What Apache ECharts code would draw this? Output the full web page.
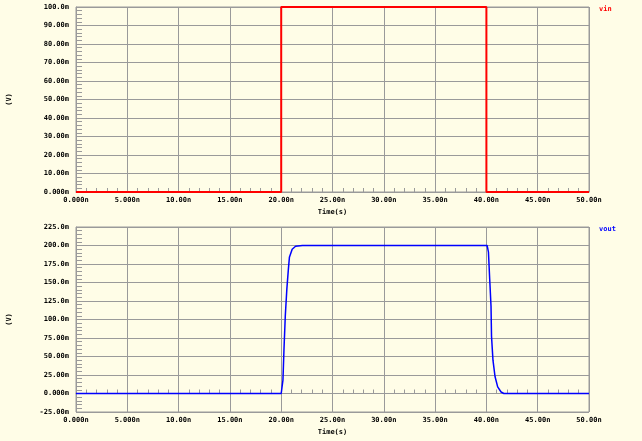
<!DOCTYPE html>
<html>
<head>
<meta charset="utf-8">
<script src="https://cdn.jsdelivr.net/npm/echarts@6/dist/echarts.min.js"></script>
<style>
html,body{margin:0;padding:0;background:#FFFDE7;}
#chart{width:642px;height:441px;}
</style>
</head>
<body>
<div id="chart"></div>
<script>
// Time in ns, voltage in mV
const timeTickLabels = ['0.000n','5.000n','10.00n','15.00n','20.00n','25.00n','30.00n','35.00n','40.00n','45.00n','50.00n'];
const vinTickLabels = ['0.000m','10.00m','20.00m','30.00m','40.00m','50.00m','60.00m','70.00m','80.00m','90.00m','100.0m'];
const voutTickLabels = ['-25.00m','0.000m','25.00m','50.00m','75.00m','100.0m','125.0m','150.0m','175.0m','200.0m','225.0m'];

const vinTime  = [0, 20, 20, 40, 40, 50];
const vinValue = [0, 0, 100, 100, 0, 0];

const voutTime  = [0, 20.0, 20.17, 20.27, 20.4, 20.55, 20.7, 20.8, 21.07, 21.4, 22.07, 40.07, 40.2, 40.32, 40.45, 40.5, 40.64, 40.84, 41.1, 41.43, 41.7, 50];
const voutValue = [0, 0, 18, 59, 105, 141, 168, 184, 195, 199, 200, 200, 191, 155, 118, 77, 45, 23, 9, 2, 0, 0];

const FONT = 'DejaVu Sans Mono';
const GRID_COLOR = '#9a9a9a';
const labelStyle = {fontFamily: FONT, fontWeight: 'bold', fontSize: 7, color: '#000'};

function pairs(xs, ys){ return xs.map((x,i)=>[x, ys[i]]); }

function xAxisCfg(gi){
  return {
    type: 'value', gridIndex: gi, min: 0, max: 50, interval: 5,
    name: 'Time(s)', nameLocation: 'middle', nameGap: 17,
    nameTextStyle: labelStyle,
    axisLine: {show: true, lineStyle: {color: GRID_COLOR, width: 1}},
    axisTick: {show: false, inside: true},
    minorTick: {show: true, splitNumber: 5, length: 4, lineStyle: {color: GRID_COLOR, width: 1}},
    axisLabel: Object.assign({margin: 5, formatter: v => timeTickLabels[Math.round(v/5)]}, labelStyle),
    splitLine: {show: true, lineStyle: {color: GRID_COLOR, width: 1}}
  };
}
function yAxisCfg(gi, min, max, interval, labels){
  return {
    type: 'value', gridIndex: gi, min: min, max: max, interval: interval,
    name: '(V)', nameLocation: 'middle', nameGap: 63, nameRotate: 90,
    nameTextStyle: labelStyle,
    axisLine: {show: true, lineStyle: {color: GRID_COLOR, width: 1}},
    axisTick: {show: false, inside: true},
    minorTick: {show: true, splitNumber: 5, length: 6, lineStyle: {color: GRID_COLOR, width: 1}},
    axisLabel: Object.assign({margin: 7, formatter: v => labels[Math.round((v - min)/interval)]}, labelStyle),
    splitLine: {show: true, lineStyle: {color: GRID_COLOR, width: 1}}
  };
}

const chart = echarts.init(document.getElementById('chart'), null, {renderer: 'canvas'});
chart.setOption({
  backgroundColor: '#FFFDE7',
  animation: false,
  grid: [
    {left: 76, top: 7, width: 513, height: 185, outerBoundsMode: 'none', containLabel: false, show: true, borderColor: GRID_COLOR, borderWidth: 1, backgroundColor: 'transparent'},
    {left: 76, top: 227, width: 513, height: 185, outerBoundsMode: 'none', containLabel: false, show: true, borderColor: GRID_COLOR, borderWidth: 1, backgroundColor: 'transparent'}
  ],
  legend: [
    {data: [{name: 'vin', icon: 'none'}], left: 594, top: 6, itemWidth: 0, itemHeight: 0, padding: 0,
     textStyle: {fontFamily: FONT, fontWeight: 'bold', fontSize: 7, color: '#ff0000'}},
    {data: [{name: 'vout', icon: 'none'}], left: 594, top: 226, itemWidth: 0, itemHeight: 0, padding: 0,
     textStyle: {fontFamily: FONT, fontWeight: 'bold', fontSize: 7, color: '#0000ff'}}
  ],
  xAxis: [xAxisCfg(0), xAxisCfg(1)],
  yAxis: [yAxisCfg(0, 0, 100, 10, vinTickLabels), yAxisCfg(1, -25, 225, 25, voutTickLabels)],
  series: [
    {name: 'vin', type: 'line', xAxisIndex: 0, yAxisIndex: 0, data: pairs(vinTime, vinValue),
     showSymbol: false, symbol: 'none', color: '#ff0000', lineStyle: {color: '#ff0000', width: 2}, z: 5},
    {name: 'vout', type: 'line', xAxisIndex: 1, yAxisIndex: 1, data: pairs(voutTime, voutValue),
     showSymbol: false, symbol: 'none', color: '#0000ff', lineStyle: {color: '#0000ff', width: 1.5}, z: 5}
  ]
});
</script>
</body>
</html>
